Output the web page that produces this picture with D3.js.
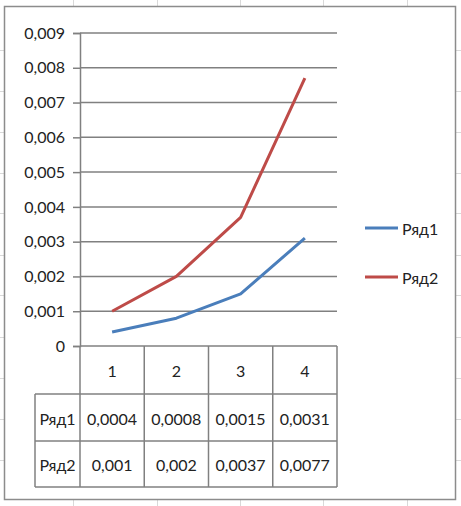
<!DOCTYPE html>
<html><head><meta charset="utf-8">
<script src="https://cdn.jsdelivr.net/npm/d3@7"></script>
<style>html,body{margin:0;padding:0;background:#fff;}svg{display:block;}</style>
</head><body>
<script>
const categories = ["1","2","3","4"];
const seriesNames = ["Ряд1","Ряд2"];
const series1 = [0.0004, 0.0008, 0.0015, 0.0031];
const series2 = [0.001, 0.002, 0.0037, 0.0077];
const series1Labels = ["0,0004","0,0008","0,0015","0,0031"];
const series2Labels = ["0,001","0,002","0,0037","0,0077"];
const yTicks = [0,0.001,0.002,0.003,0.004,0.005,0.006,0.007,0.008,0.009];
const colors = ["#4a7ebb","#be4b48"];

const W = 461, H = 506;
const font = "Lato, 'Open Sans', sans-serif";
const svg = d3.select("body").append("svg").attr("width", W).attr("height", H);

// faint spreadsheet grid behind
const bg = svg.append("g").attr("stroke","#d9d9d9").attr("stroke-width",1);
[73,157,240,323,407].forEach(x=>bg.append("line").attr("x1",x+.5).attr("x2",x+.5).attr("y1",0).attr("y2",H));
[50,91,132,173,213,255,295,337,378,419,460].forEach(y=>bg.append("line").attr("x1",0).attr("x2",W).attr("y1",y+.5).attr("y2",y+.5));

// chart area
svg.append("rect").attr("x",4.5).attr("y",6.5).attr("width",451).attr("height",493)
  .attr("fill","#fff").attr("stroke","#8c8c8c").attr("stroke-width",1.5);

const x = d3.scaleBand().domain(categories).range([80,337]);
const y = d3.scaleLinear().domain([0,0.009]).range([346,33]);
const fmt = d => d===0 ? "0" : d3.format(".3f")(d).replace(".",",");

const grid = "#808080";
const gw = 1.5;
// gridlines + ticks
const yAxis = d3.axisLeft(y).tickValues(yTicks).tickFormat(fmt).tickSize(7).tickPadding(8);
const ga = svg.append("g").attr("transform","translate(80,0)").call(yAxis);
ga.select(".domain").attr("stroke",grid).attr("stroke-width",gw);
ga.selectAll(".tick line").attr("stroke",grid).attr("stroke-width",gw);
ga.selectAll(".tick text").attr("font-family",font).attr("font-size",16).attr("fill","#222");
svg.append("g").selectAll("line").data(yTicks).join("line")
  .attr("x1",80).attr("x2",337).attr("y1",d=>y(d)).attr("y2",d=>y(d))
  .attr("stroke",grid).attr("stroke-width",gw);

// lines
const line = d3.line().x((d,i)=>x(categories[i])+x.bandwidth()/2).y(d=>y(d));
[series1,series2].forEach((s,k)=>{
  svg.append("path").datum(s).attr("d",line).attr("fill","none")
    .attr("stroke",colors[k]).attr("stroke-width",3).attr("stroke-linejoin","round");
});

// data table
const rowBot = 487;
const tbl = svg.append("g").attr("stroke",grid).attr("stroke-width",gw);
x.domain().forEach(c=>tbl.append("line").attr("x1",x(c)).attr("x2",x(c)).attr("y1",346).attr("y2",rowBot));
tbl.append("line").attr("x1",337).attr("x2",337).attr("y1",346).attr("y2",rowBot);
tbl.append("line").attr("x1",35).attr("x2",35).attr("y1",394).attr("y2",rowBot);
[394,441,487].forEach(yy=>tbl.append("line").attr("x1",35).attr("x2",337).attr("y1",yy).attr("y2",yy));

const txt = (t,xx,yy,anchor)=>svg.append("text").attr("x",xx).attr("y",yy).attr("text-anchor",anchor||"middle")
  .attr("dominant-baseline","central").attr("font-family",font).attr("font-size",16).attr("fill","#222").text(t);
categories.forEach(c=>txt(c, x(c)+x.bandwidth()/2, 370));
series1Labels.forEach((t,i)=>txt(t, x(categories[i])+x.bandwidth()/2, 418));
series2Labels.forEach((t,i)=>txt(t, x(categories[i])+x.bandwidth()/2, 464));
txt(seriesNames[0], 57.5, 418);
txt(seriesNames[1], 57.5, 464);

// legend
const legY = [228,277];
seriesNames.forEach((n,k)=>{
  svg.append("line").attr("x1",365).attr("x2",398).attr("y1",legY[k]).attr("y2",legY[k])
    .attr("stroke",colors[k]).attr("stroke-width",3);
  txt(n, 402, legY[k], "start");
});
</script>
</body></html>
